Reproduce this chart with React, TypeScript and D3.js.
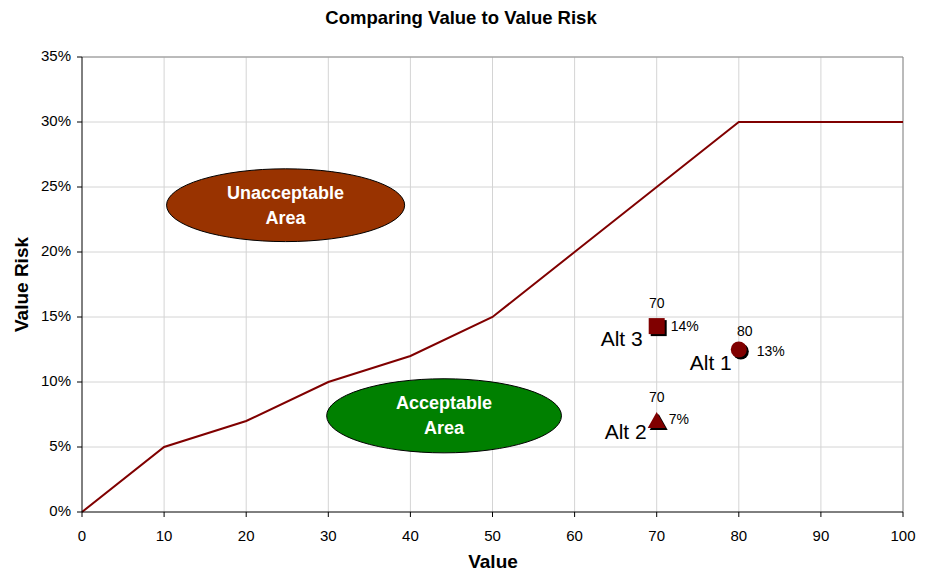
import * as d3 from "d3";

// threshold line: value -> max acceptable value risk (%)
const lineValues = [0, 10, 20, 30, 40, 50, 60, 70, 80, 100];
const lineRisk = [0, 5, 7, 10, 12, 15, 20, 25, 30, 30];

const altNames = ["Alt 1", "Alt 2", "Alt 3"];
const altValues = [80, 70, 70];
const altRisk = [12.5, 7, 14.3];
const altRiskLabels = ["13%", "7%", "14%"];
const altShapes = ["circle", "triangle", "square"];

const xTicks = [0, 10, 20, 30, 40, 50, 60, 70, 80, 90, 100];
const yTicks = [0, 5, 10, 15, 20, 25, 30, 35];

const W = 925;
const H = 572;
const margin = { top: 57, right: 22, bottom: 60, left: 82 };
const font = "'Liberation Sans', Arial, sans-serif";
const markerColor = "#800000";

// label offsets (px) per alternative: value label, pct label, name label
const labelPos: Record<string, { v: [number, number]; p: [number, number]; n: [number, number] }> = {
  "Alt 1": { v: [6, -17], p: [18, 3], n: [-7, 15] },
  "Alt 2": { v: [0, -23], p: [12, -1], n: [-10, 12] },
  "Alt 3": { v: [0, -22], p: [14, 1], n: [-14, 14] },
};

function Marker({ shape, x, y, fill }: { shape: string; x: number; y: number; fill: string }) {
  if (shape === "circle") return <circle cx={x} cy={y} r={8} fill={fill} />;
  if (shape === "square") return <rect x={x - 8} y={y - 8} width={16} height={16} fill={fill} />;
  const path = d3.path();
  path.moveTo(x, y - 9);
  path.lineTo(x + 9, y + 7);
  path.lineTo(x - 9, y + 7);
  path.closePath();
  return <path d={path.toString()} fill={fill} />;
}

export default function App() {
  const innerW = W - margin.left - margin.right;
  const innerH = H - margin.top - margin.bottom;

  const x = d3.scaleLinear().domain([0, 100]).range([0, innerW]);
  const y = d3.scaleLinear().domain([0, 35]).range([innerH, 0]);

  const line = d3
    .line<number>()
    .x((_, i) => x(lineValues[i]))
    .y((d) => y(d));

  return (
    <svg
      width={W}
      height={H}
      style={{ position: "absolute", left: 0, top: 0, background: "#fff" }}
      fontFamily={font}
    >
      <text x={461} y={24} textAnchor="middle" fontSize={18.5} fontWeight="bold" fill="#000">
        Comparing Value to Value Risk
      </text>

      <g transform={`translate(${margin.left},${margin.top})`}>
        {/* grid */}
        {xTicks.slice(1).map((t) => (
          <line key={`gx${t}`} x1={x(t)} x2={x(t)} y1={0} y2={innerH} stroke="#d4d4d4" strokeWidth={1} />
        ))}
        {yTicks.slice(1).map((t) => (
          <line key={`gy${t}`} x1={0} x2={innerW} y1={y(t)} y2={y(t)} stroke="#d4d4d4" strokeWidth={1} />
        ))}
        <line x1={0} x2={innerW} y1={0} y2={0} stroke="#8c8c8c" />
        <line x1={innerW} x2={innerW} y1={0} y2={innerH} stroke="#8c8c8c" />

        {/* ellipses */}
        <ellipse cx={x(24.8)} cy={y(23.6)} rx={x(14.5)} ry={innerH - y(2.8)} fill="#993300" stroke="#000" strokeWidth={1} />
        <text x={x(24.8)} y={y(23.6)} textAnchor="middle" fill="#fff" fontSize={18} fontWeight="bold">
          <tspan x={x(24.8)} dy={-6}>Unacceptable</tspan>
          <tspan x={x(24.8)} dy={25}>Area</tspan>
        </text>
        <ellipse cx={x(44.1)} cy={y(7.4)} rx={x(14.3)} ry={innerH - y(2.85)} fill="#008000" stroke="#000" strokeWidth={1} />
        <text x={x(44.1)} y={y(7.4)} textAnchor="middle" fill="#fff" fontSize={18} fontWeight="bold">
          <tspan x={x(44.1)} dy={-7}>Acceptable</tspan>
          <tspan x={x(44.1)} dy={25}>Area</tspan>
        </text>

        {/* threshold line */}
        <path d={line(lineRisk) ?? ""} fill="none" stroke="#800000" strokeWidth={2} />

        {/* alternatives */}
        {altNames.map((name, i) => {
          const cx = x(altValues[i]);
          const cy = y(altRisk[i]);
          const lp = labelPos[name];
          return (
            <g key={name}>
              <Marker shape={altShapes[i]} x={cx + 2} y={cy + 2} fill="#000" />
              <Marker shape={altShapes[i]} x={cx} y={cy} fill={markerColor} />
              <text x={cx + lp.v[0]} y={cy + lp.v[1]} textAnchor="middle" dominantBaseline="middle" fontSize={14}>
                {altValues[i]}
              </text>
              <text x={cx + lp.p[0]} y={cy + lp.p[1]} dominantBaseline="middle" fontSize={14}>
                {altRiskLabels[i]}
              </text>
              <text x={cx + lp.n[0]} y={cy + lp.n[1]} textAnchor="end" dominantBaseline="middle" fontSize={21}>
                {name}
              </text>
            </g>
          );
        })}

        {/* axes */}
        <line x1={0} x2={0} y1={0} y2={innerH} stroke="#000" />
        <line x1={0} x2={innerW} y1={innerH} y2={innerH} stroke="#000" />
        {yTicks.map((t) => (
          <g key={`ty${t}`} transform={`translate(0,${y(t)})`}>
            <line x1={-5} x2={0} stroke="#000" />
            <text x={-11} textAnchor="end" dominantBaseline="middle" fontSize={15}>
              {t}%
            </text>
          </g>
        ))}
        {xTicks.map((t) => (
          <g key={`tx${t}`} transform={`translate(${x(t)},${innerH})`}>
            <line y1={0} y2={5} stroke="#000" />
            <text y={29} textAnchor="middle" fontSize={15}>
              {t}
            </text>
          </g>
        ))}
      </g>

      <text x={493} y={568} textAnchor="middle" fontSize={19} fontWeight="bold">
        Value
      </text>
      <text
        transform={`translate(28,${margin.top + (H - margin.top - margin.bottom) / 2}) rotate(-90)`}
        textAnchor="middle"
        fontSize={19}
        fontWeight="bold"
      >
        Value Risk
      </text>
    </svg>
  );
}
